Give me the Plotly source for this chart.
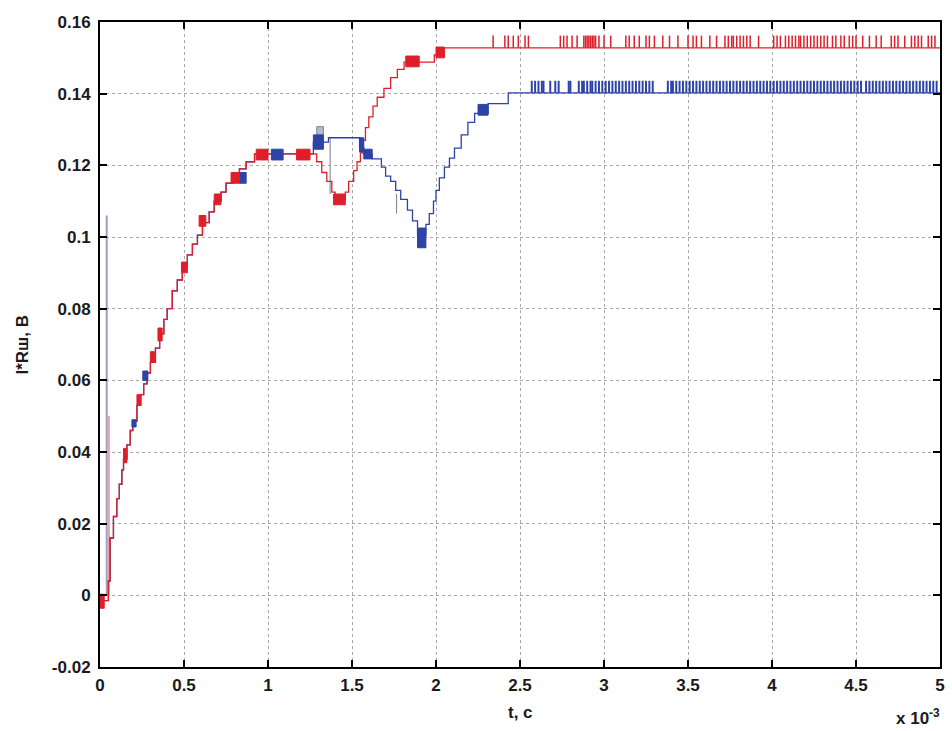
import plotly.graph_objects as go

# ---- data (time in ms, voltage in V) ----
rise_t = [0, 0.05, 0.06, 0.08, 0.10, 0.115, 0.13, 0.14, 0.16, 0.18, 0.195, 0.22, 0.24,
          0.26, 0.28, 0.30, 0.33, 0.355, 0.38, 0.40, 0.43, 0.46, 0.49, 0.52, 0.55, 0.58,
          0.61, 0.65, 0.68, 0.72, 0.75, 0.79, 0.83, 0.87, 0.92]
rise_v = [-0.0015, 0.004, 0.016, 0.022, 0.027, 0.031, 0.035, 0.038, 0.042, 0.046, 0.0486,
          0.053, 0.056, 0.059, 0.062, 0.065, 0.069, 0.073, 0.077, 0.080, 0.085, 0.088,
          0.092, 0.095, 0.098, 0.1005, 0.104, 0.107, 0.110, 0.1125, 0.115, 0.1175, 0.119,
          0.121, 0.1232]

red_tail_t = [1.29, 1.32, 1.35, 1.38, 1.40, 1.46, 1.48, 1.51, 1.53, 1.55, 1.565, 1.58,
              1.60, 1.625, 1.65, 1.69, 1.73, 1.77, 1.81, 1.99, 2.05, 5.0]
red_tail_v = [0.121, 0.118, 0.1155, 0.1125, 0.1105, 0.1125, 0.1155, 0.1185, 0.121, 0.1235,
              0.127, 0.1305, 0.1335, 0.1365, 0.139, 0.1415, 0.1445, 0.1468, 0.1488, 0.1508,
              0.1528, 0.1528]

blue_tail_t = [1.27, 1.36, 1.545, 1.57, 1.62, 1.675, 1.70, 1.73, 1.76, 1.79, 1.83, 1.86,
               1.89, 1.94, 1.96, 1.985, 2.00, 2.02, 2.05, 2.08, 2.11, 2.15, 2.19, 2.23,
               2.31, 2.43, 5.0]
blue_tail_v = [0.1265, 0.1277, 0.1250, 0.1232, 0.1218, 0.1195, 0.117, 0.1155, 0.113,
               0.1105, 0.1075, 0.1045, 0.1005, 0.1035, 0.1065, 0.110, 0.113, 0.1165,
               0.1195, 0.122, 0.1248, 0.1285, 0.132, 0.1345, 0.1372, 0.1402, 0.1402]

# switching bursts: start, end, low, high
red_burst_t0 = [0.0, 0.14, 0.22, 0.30, 0.345, 0.485, 0.59, 0.68, 0.78, 0.93, 1.17, 1.39, 1.82, 2.00]
red_burst_t1 = [0.025, 0.16, 0.245, 0.325, 0.37, 0.52, 0.63, 0.72, 0.83, 1.00, 1.25, 1.46, 1.90, 2.05]
red_burst_lo = [-0.0036, 0.037, 0.053, 0.065, 0.071, 0.090, 0.103, 0.109, 0.115, 0.1215, 0.1215, 0.109, 0.1475, 0.1500]
red_burst_hi = [0.0003, 0.041, 0.056, 0.068, 0.0746, 0.093, 0.106, 0.112, 0.118, 0.1245, 0.1245, 0.112, 0.1505, 0.1530]

blue_burst_t0 = [0.19, 0.255, 0.83, 1.02, 1.27, 1.545, 1.57, 1.89, 2.25]
blue_burst_t1 = [0.215, 0.285, 0.87, 1.09, 1.33, 1.57, 1.62, 1.94, 2.31]
blue_burst_lo = [0.047, 0.060, 0.115, 0.1215, 0.1245, 0.1237, 0.1218, 0.097, 0.134]
blue_burst_hi = [0.049, 0.0626, 0.118, 0.1245, 0.1285, 0.1277, 0.1245, 0.1025, 0.137]

# faint overshoot above the 1.3 ms burst: start, end, low, high
halo_t0, halo_t1, halo_lo, halo_hi = 1.29, 1.33, 0.1285, 0.1308

# start-up spikes: time, peak
red_spike = (0.05, 0.05)
blue_spike = (0.04, 0.106)

# stray transients
gray_t = [1.37, 1.765]
gray_lo = [0.112, 0.1065]
gray_hi = [0.1277, 0.112]

# steady-state chatter
red_chatter_t = [2.34, 2.41, 2.43, 2.46, 2.49, 2.53, 2.55, 2.74, 2.76, 2.78, 2.81, 2.84,
                 2.88, 2.89, 2.90, 2.91, 2.92, 2.93, 2.94, 2.95, 2.97, 3.00, 3.04, 3.13,
                 3.15, 3.18, 3.21, 3.25, 3.27, 3.30, 3.35, 3.39, 3.44, 3.50, 3.53, 3.55,
                 3.58, 3.63, 3.67, 3.72, 3.74, 3.76, 3.77, 3.79, 3.81, 3.83, 3.85, 3.87,
                 3.92, 4.01, 4.03, 4.05, 4.08, 4.10, 4.12, 4.14, 4.16, 4.17, 4.19, 4.21,
                 4.23, 4.25, 4.27, 4.29, 4.31, 4.33, 4.36, 4.38, 4.41, 4.43, 4.46, 4.48,
                 4.50, 4.54, 4.58, 4.62, 4.65, 4.71, 4.73, 4.75, 4.79, 4.83, 4.85, 4.87,
                 4.89, 4.93, 4.95, 4.97]
red_chatter_lo = 0.1528
red_chatter_hi = 0.1562

blue_chatter_t = [2.57, 2.59, 2.61, 2.63, 2.64, 2.68, 2.71, 2.73, 2.79, 2.80,
                  2.85, 2.87, 2.88, 2.90, 2.92, 2.93, 2.95, 2.97, 2.99, 3.01, 3.03, 3.05,
                  3.07, 3.09, 3.11, 3.13, 3.15, 3.17, 3.19, 3.21, 3.23, 3.25, 3.27, 3.29,
                  3.38, 3.40, 3.41, 3.43, 3.45, 3.47, 3.49, 3.51, 3.53, 3.55, 3.57, 3.59,
                  3.61, 3.63, 3.65, 3.67, 3.69, 3.71, 3.73, 3.75, 3.77, 3.79, 3.81, 3.83,
                  3.85, 3.87, 3.89, 3.91, 3.93, 3.95, 3.97, 3.99, 4.01, 4.03, 4.05, 4.07,
                  4.09, 4.11, 4.13, 4.15, 4.17, 4.19, 4.21, 4.23, 4.25, 4.27, 4.29, 4.31,
                  4.33, 4.35, 4.37, 4.39, 4.41, 4.43, 4.45, 4.47, 4.49, 4.51, 4.53, 4.56,
                  4.58, 4.60, 4.62, 4.64, 4.66, 4.68, 4.70, 4.72, 4.74, 4.76, 4.78, 4.80,
                  4.82, 4.84, 4.86, 4.88, 4.90, 4.92, 4.94, 4.96, 4.98]
blue_chatter_lo = 0.1402
blue_chatter_hi = 0.1436

x_ticks = [0, 0.5, 1, 1.5, 2, 2.5, 3, 3.5, 4, 4.5, 5]
x_ticktext = ["0", "0.5", "1", "1.5", "2", "2.5", "3", "3.5", "4", "4.5", "5"]
y_ticks = [-0.02, 0, 0.02, 0.04, 0.06, 0.08, 0.1, 0.12, 0.14, 0.16]
y_ticktext = ["-0.02", "0", "0.02", "0.04", "0.06", "0.08", "0.1", "0.12", "0.14", "0.16"]

RED = "#de1f2a"
BLUE = "#2d43a6"


def rects(t0, t1, lo, hi):
    xs, ys = [], []
    for a, b, l, h in zip(t0, t1, lo, hi):
        xs += [a, b, b, a, a, None]
        ys += [l, l, h, h, l, None]
    return xs, ys


def segments(ts, lo, hi):
    xs, ys = [], []
    for t, l, h in zip(ts, lo, hi):
        xs += [t, t, None]
        ys += [l, h, None]
    return xs, ys


fig = go.Figure()

# start-up spikes
fig.add_trace(go.Scatter(x=[blue_spike[0], blue_spike[0]], y=[0, blue_spike[1]], mode="lines",
                         line=dict(color="#9aa0c4", width=2), hoverinfo="skip"))
fig.add_trace(go.Scatter(x=[red_spike[0], red_spike[0]], y=[0, red_spike[1]], mode="lines",
                         line=dict(color="#e2a6ad", width=3), hoverinfo="skip"))

# stray transients
gx, gy = segments(gray_t, gray_lo, gray_hi)
fig.add_trace(go.Scatter(x=gx, y=gy, mode="lines", line=dict(color="#8a8f9c", width=1.2),
                         hoverinfo="skip"))

# staircase traces
fig.add_trace(go.Scatter(x=rise_t + blue_tail_t, y=rise_v + blue_tail_v, mode="lines",
                         line=dict(color=BLUE, width=1.3, shape="hv"), hoverinfo="skip"))
fig.add_trace(go.Scatter(x=rise_t + red_tail_t, y=rise_v + red_tail_v, mode="lines",
                         line=dict(color=RED, width=1.3, shape="hv"), hoverinfo="skip"))

# steady-state chatter
bx, by = segments(blue_chatter_t, [blue_chatter_lo] * len(blue_chatter_t),
                  [blue_chatter_hi] * len(blue_chatter_t))
fig.add_trace(go.Scatter(x=bx, y=by, mode="lines", line=dict(color=BLUE, width=2),
                         hoverinfo="skip"))
rx, ry = segments(red_chatter_t, [red_chatter_lo] * len(red_chatter_t),
                  [red_chatter_hi] * len(red_chatter_t))
fig.add_trace(go.Scatter(x=rx, y=ry, mode="lines", line=dict(color=RED, width=1.5),
                         hoverinfo="skip"))

# switching bursts
hx, hy = rects([halo_t0], [halo_t1], [halo_lo], [halo_hi])
fig.add_trace(go.Scatter(x=hx, y=hy, mode="lines", fill="toself", fillcolor="#b4b9cf",
                         line=dict(color="#7d84a6", width=1), hoverinfo="skip"))
bx, by = rects(blue_burst_t0, blue_burst_t1, blue_burst_lo, blue_burst_hi)
fig.add_trace(go.Scatter(x=bx, y=by, mode="lines", fill="toself", fillcolor=BLUE,
                         line=dict(color=BLUE, width=1), hoverinfo="skip"))
rx, ry = rects(red_burst_t0, red_burst_t1, red_burst_lo, red_burst_hi)
fig.add_trace(go.Scatter(x=rx, y=ry, mode="lines", fill="toself", fillcolor=RED,
                         line=dict(color=RED, width=1), hoverinfo="skip"))

axis_font = dict(family="Liberation Sans, Arial, sans-serif", size=17, color="#1a1a1a")

fig.update_layout(
    width=952, height=731,
    margin=dict(l=100, r=7, t=22, b=64),
    paper_bgcolor="white", plot_bgcolor="white",
    showlegend=False,
    font=axis_font,
)
fig.update_xaxes(
    range=[0, 5], tickvals=x_ticks, ticktext=x_ticktext,
    showline=True, linecolor="black", linewidth=2, mirror="ticks",
    ticks="inside", ticklen=7, tickwidth=2, tickcolor="black",
    showgrid=True, gridcolor="#a8a8a8", gridwidth=1, griddash="dot",
    zeroline=False, tickfont=dict(axis_font, weight="bold"), ticklabelstandoff=2,
)
fig.update_yaxes(
    range=[-0.02, 0.16], tickvals=y_ticks, ticktext=y_ticktext,
    showline=True, linecolor="black", linewidth=2, mirror="ticks",
    ticks="inside", ticklen=7, tickwidth=2, tickcolor="black",
    showgrid=True, gridcolor="#a8a8a8", gridwidth=1, griddash="dot",
    zeroline=False, tickfont=dict(axis_font, weight="bold"), ticklabelstandoff=4,
)

fig.add_annotation(text="t, c", x=2.5, xref="x", y=0, yref="paper", yshift=-45,
                   showarrow=False, font=dict(axis_font, weight="bold"), yanchor="middle")
fig.add_annotation(text="I*Rш, B", x=0, xref="paper", xshift=-78, y=0.5, yref="paper",
                   textangle=-90, showarrow=False, font=dict(axis_font, weight="bold"),
                   xanchor="center", yanchor="middle")
fig.add_annotation(text="x 10<sup>-3</sup>", x=1, xref="paper", xanchor="right", xshift=2,
                   y=0, yref="paper", yshift=-50, yanchor="middle", showarrow=False,
                   font=dict(axis_font, weight="bold"))

fig.write_html("out.html")
